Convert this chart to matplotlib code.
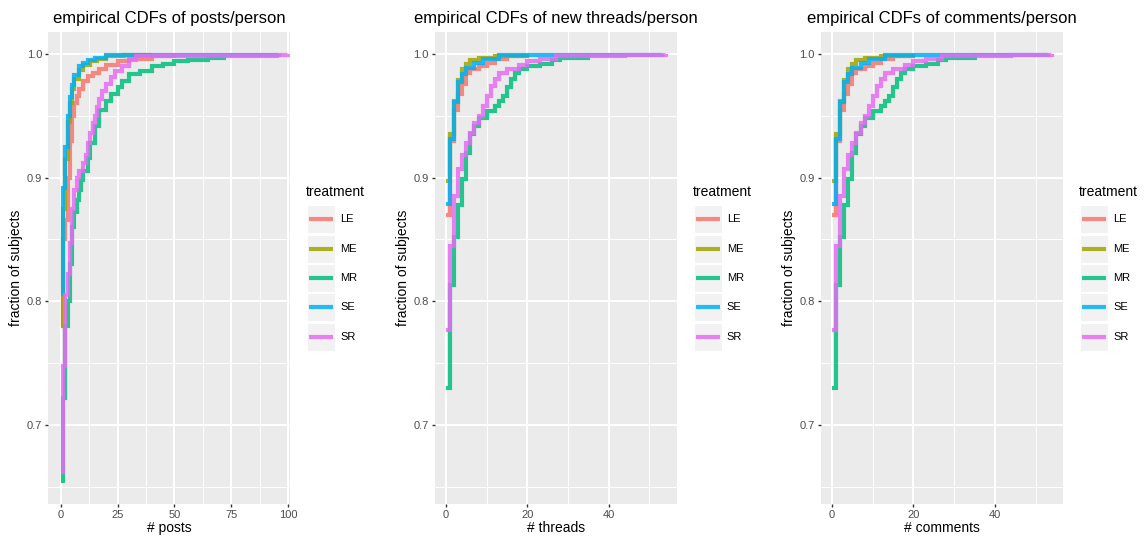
import matplotlib
matplotlib.use("Agg")
import matplotlib.pyplot as plt
from matplotlib.patches import Rectangle
from matplotlib.lines import Line2D

plt.rcParams['font.family'] = ['Liberation Sans', 'DejaVu Sans']

# ---------------- data (ECDF breakpoints: value, cumulative fraction) ----------------
treatments = ["LE", "ME", "MR", "SE", "SR"]
colors = ["#F8766D", "#A3A500", "#00BF7D", "#00B0F6", "#E76BF3"]

# posts/person
posts_LE_x = [0, 1, 2, 3, 4, 5, 6, 7, 8, 10, 12, 14, 17, 20, 25, 30, 40, 50]
posts_LE_y = [0.780, 0.850, 0.866, 0.900, 0.930, 0.950, 0.960, 0.966, 0.972, 0.978,
              0.982, 0.985, 0.988, 0.991, 0.994, 0.996, 0.998, 1.0]
posts_ME_x = [0, 1, 2, 3, 4, 5, 6, 8, 10, 13, 16, 20, 28, 40]
posts_ME_y = [0.780, 0.875, 0.915, 0.945, 0.960, 0.972, 0.980, 0.987, 0.991, 0.994,
              0.996, 0.998, 0.999, 1.0]
posts_MR_x = [0, 1, 2, 3, 4, 5, 6, 7, 8, 9, 10, 12, 13, 15, 17, 20, 22, 25, 27, 30,
              35, 40, 45, 50, 56, 65, 72]
posts_MR_y = [0.655, 0.722, 0.780, 0.800, 0.830, 0.860, 0.872, 0.882, 0.890, 0.898,
              0.905, 0.916, 0.928, 0.942, 0.955, 0.962, 0.968, 0.973, 0.978, 0.984,
              0.986, 0.990, 0.992, 0.994, 0.995, 0.997, 1.0]
posts_SE_x = [0, 1, 2, 3, 4, 5, 6, 8, 10, 12, 15, 20, 30, 96]
posts_SE_y = [0.806, 0.892, 0.925, 0.950, 0.965, 0.975, 0.983, 0.990, 0.993, 0.995,
              0.997, 0.999, 0.9995, 1.0]
posts_SR_x = [0, 1, 2, 3, 4, 5, 6, 7, 8, 10, 11, 12, 13, 14, 15, 16, 17, 18, 20, 22,
              24, 27, 30, 33, 95, 100]
posts_SR_y = [0.662, 0.748, 0.805, 0.822, 0.847, 0.875, 0.890, 0.900, 0.905, 0.912,
              0.918, 0.928, 0.936, 0.944, 0.950, 0.957, 0.964, 0.970, 0.976, 0.981,
              0.986, 0.990, 0.995, 0.998, 0.999, 1.0]

# new threads/person
threads_LE_x = [0, 1, 2, 3, 4, 5, 6, 8, 10, 12, 15, 20]
threads_LE_y = [0.870, 0.930, 0.955, 0.968, 0.976, 0.985, 0.988, 0.990, 0.993, 0.996, 0.998, 1.0]
threads_ME_x = [0, 1, 2, 3, 4, 5, 6, 8, 12, 20]
threads_ME_y = [0.897, 0.935, 0.962, 0.979, 0.988, 0.992, 0.995, 0.997, 0.998, 1.0]
threads_MR_x = [0, 1, 2, 3, 4, 5, 6, 7, 8, 10, 12, 13, 14, 15, 16, 17, 18, 20, 23, 26, 28, 35]
threads_MR_y = [0.730, 0.813, 0.852, 0.878, 0.899, 0.920, 0.935, 0.942, 0.948, 0.954,
                0.958, 0.962, 0.966, 0.973, 0.980, 0.985, 0.988, 0.990, 0.992, 0.995,
                0.997, 1.0]
threads_SE_x = [0, 1, 2, 3, 4, 5, 7, 9, 13, 15, 53]
threads_SE_y = [0.879, 0.931, 0.961, 0.977, 0.984, 0.989, 0.993, 0.996, 0.999, 0.9995, 1.0]
threads_SR_x = [0, 1, 2, 3, 4, 5, 6, 7, 8, 9, 10, 11, 12, 13, 15, 18, 20, 23, 27, 44, 54]
threads_SR_y = [0.777, 0.845, 0.885, 0.907, 0.918, 0.928, 0.936, 0.944, 0.950, 0.958,
                0.966, 0.974, 0.980, 0.985, 0.988, 0.991, 0.994, 0.996, 0.998, 0.999, 1.0]

# comments/person
comments_LE_x = [0, 1, 2, 3, 4, 5, 6, 8, 10, 12, 15, 20]
comments_LE_y = [0.870, 0.930, 0.955, 0.968, 0.976, 0.985, 0.988, 0.990, 0.993, 0.996, 0.998, 1.0]
comments_ME_x = [0, 1, 2, 3, 4, 5, 6, 8, 12, 20]
comments_ME_y = [0.897, 0.935, 0.962, 0.979, 0.988, 0.992, 0.995, 0.997, 0.998, 1.0]
comments_MR_x = [0, 1, 2, 3, 4, 5, 6, 7, 8, 10, 12, 13, 14, 15, 16, 17, 18, 20, 23, 26, 28, 35]
comments_MR_y = [0.730, 0.813, 0.852, 0.878, 0.899, 0.920, 0.935, 0.942, 0.948, 0.954,
                 0.958, 0.962, 0.966, 0.973, 0.980, 0.985, 0.988, 0.990, 0.992, 0.995,
                 0.997, 1.0]
comments_SE_x = [0, 1, 2, 3, 4, 5, 7, 9, 13, 15, 53]
comments_SE_y = [0.879, 0.931, 0.961, 0.977, 0.984, 0.989, 0.993, 0.996, 0.999, 0.9995, 1.0]
comments_SR_x = [0, 1, 2, 3, 4, 5, 6, 7, 8, 9, 10, 11, 12, 13, 15, 18, 20, 23, 27, 44, 54]
comments_SR_y = [0.777, 0.845, 0.885, 0.907, 0.918, 0.928, 0.936, 0.944, 0.950, 0.958,
                 0.966, 0.974, 0.980, 0.985, 0.988, 0.991, 0.994, 0.996, 0.998, 0.999, 1.0]

titles = ["empirical CDFs of posts/person", "empirical CDFs of new threads/person",
          "empirical CDFs of comments/person"]
xlabels = ["# posts", "# threads", "# comments"]
ylabel = "fraction of subjects"
legend_title = "treatment"
y_ticks = [0.7, 0.8, 0.9, 1.0]
y_minor = [0.65, 0.75, 0.85, 0.95]
x_ticks = [[0, 25, 50, 75, 100], [0, 20, 40], [0, 20, 40]]
x_minor = [[12.5, 37.5, 62.5, 87.5], [10, 30, 50], [10, 30, 50]]

series = [
    [(posts_LE_x, posts_LE_y), (posts_ME_x, posts_ME_y), (posts_MR_x, posts_MR_y),
     (posts_SE_x, posts_SE_y), (posts_SR_x, posts_SR_y)],
    [(threads_LE_x, threads_LE_y), (threads_ME_x, threads_ME_y), (threads_MR_x, threads_MR_y),
     (threads_SE_x, threads_SE_y), (threads_SR_x, threads_SR_y)],
    [(comments_LE_x, comments_LE_y), (comments_ME_x, comments_ME_y), (comments_MR_x, comments_MR_y),
     (comments_SE_x, comments_SE_y), (comments_SR_x, comments_SR_y)],
]

# ---------------- layout (pixels) ----------------
W, H = 1147, 540
panels = [(48.3, 290.0), (435.0, 676.7), (821.0, 1063.3)]
ptop, pbot = 32.0, 504.0
xlims = [(-5.45, 100.9), (-2.7, 56.7), (-2.7, 56.8)]
ylim = (0.636, 1.0178)

fig = plt.figure(figsize=(W / 100, H / 100), dpi=100)
fig.patch.set_facecolor("white")

def fx(px):
    return px / W

def fy(py):
    return 1 - py / H

for i, (pl, pr) in enumerate(panels):
    ax = fig.add_axes([fx(pl), fy(pbot), (pr - pl) / W, (pbot - ptop) / H])
    ax.set_facecolor("#EBEBEB")
    for s in ax.spines.values():
        s.set_visible(False)
    ax.set_xlim(*xlims[i])
    ax.set_ylim(*ylim)
    ax.set_xticks(x_ticks[i])
    ax.set_xticklabels([str(t) for t in x_ticks[i]])
    ax.set_xticks(x_minor[i], minor=True)
    ax.set_yticks(y_ticks)
    ax.set_yticklabels([f"{t:.1f}" for t in y_ticks])
    ax.set_yticks(y_minor, minor=True)
    ax.grid(which="major", color="white", linewidth=1.5)
    ax.grid(which="minor", color="white", linewidth=0.7)
    ax.set_axisbelow(True)
    ax.tick_params(which="major", length=2.5, width=1.0, color="#333333",
                   labelcolor="#4D4D4D", labelsize=8, pad=2)
    ax.tick_params(which="minor", length=0)

    for (xs, ys), c in zip(series[i], colors):
        ax.step(xs, ys, where="post", color=c, linewidth=3.0, alpha=0.85,
                solid_capstyle="butt", solid_joinstyle="miter")

    cx = (pl + pr) / 2
    fig.text(fx(cx), fy(18), titles[i], ha="center", va="center", fontsize=12, color="black")
    fig.text(fx(cx), fy(528), xlabels[i], ha="center", va="center", fontsize=10, color="black")
    fig.text(fx(pl - 32), fy((ptop + pbot) / 2), ylabel, ha="center", va="center",
             rotation=90, fontsize=10, color="black")

    # legend
    lx = pr + 17
    fig.text(fx(lx - 1), fy(191.5), legend_title, ha="left", va="center", fontsize=10, color="black")
    rows = [219.3, 248.7, 277.9, 307.2, 336.7]
    for name, c, ry in zip(treatments, colors, rows):
        fig.add_artist(Rectangle((fx(lx), fy(ry + 14)), 28 / W, 28 / H,
                                 transform=fig.transFigure, facecolor="#F2F2F2",
                                 edgecolor="white", linewidth=0.8))
        fig.add_artist(Line2D([fx(lx + 2), fx(lx + 26)], [fy(ry), fy(ry)],
                              transform=fig.transFigure, color=c, linewidth=3.0,
                              alpha=0.85, solid_capstyle="butt"))
        fig.text(fx(lx + 33), fy(ry), name, ha="left", va="center", fontsize=8, color="black")

fig.savefig("out.png", dpi=100)
